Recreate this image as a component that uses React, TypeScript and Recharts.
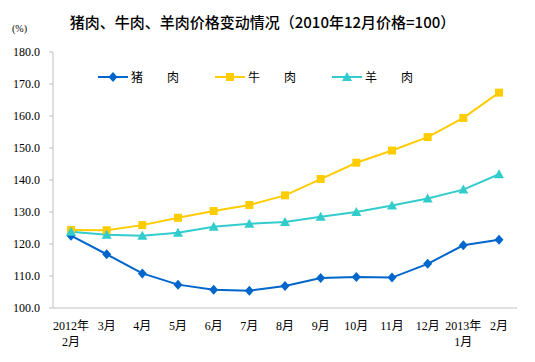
import React from "react"
import {
  ComposedChart,
  Line,
  XAxis,
  YAxis,
} from "recharts"

// 月份（2012年2月 — 2013年2月）
const months = [
  "2012年2月", "3月", "4月", "5月", "6月", "7月", "8月",
  "9月", "10月", "11月", "12月", "2013年1月", "2月",
]

// 价格指数，2010年12月=100
const pork = [122.6, 116.8, 110.8, 107.3, 105.7, 105.4, 106.9, 109.4, 109.7, 109.5, 113.8, 119.6, 121.3]
const beef = [124.4, 124.3, 125.9, 128.2, 130.3, 132.2, 135.2, 140.3, 145.4, 149.2, 153.4, 159.4, 167.3]
const mutton = [123.8, 122.9, 122.6, 123.5, 125.4, 126.3, 126.9, 128.5, 130.0, 132.0, 134.2, 137.0, 141.8]

const yTicks = [100, 110, 120, 130, 140, 150, 160, 170, 180]

const data = months.map((m, i) => ({
  month: m,
  pork: pork[i],
  beef: beef[i],
  mutton: mutton[i],
}))

type Shape = "diamond" | "square" | "triangle"

const series: { key: string; name: string; color: string; shape: Shape }[] = [
  { key: "pork", name: "猪　　肉", color: "#0066CC", shape: "diamond" },
  { key: "beef", name: "牛　　肉", color: "#FFCC00", shape: "square" },
  { key: "mutton", name: "羊　　肉", color: "#33CCCC", shape: "triangle" },
]

const serif = "'Liberation Serif', 'Noto Sans CJK SC', serif"
const cjk = "'Noto Sans CJK SC', sans-serif"

function Marker({ cx, cy, shape, color }: { cx: number; cy: number; shape: Shape; color: string }) {
  if (shape === "diamond") {
    return <polygon points={`${cx},${cy - 5} ${cx + 4.5},${cy} ${cx},${cy + 5} ${cx - 4.5},${cy}`} fill={color} />
  }
  if (shape === "square") {
    return <rect x={cx - 4} y={cy - 4} width={8} height={8} fill={color} />
  }
  return <polygon points={`${cx},${cy - 5} ${cx + 5},${cy + 4} ${cx - 5},${cy + 4}`} fill={color} />
}

function makeDot(shape: Shape, color: string) {
  return (props: any) => {
    if (props.cx == null || props.cy == null) return <g key={props.index} />
    return (
      <g key={`${shape}-${props.index}`}>
        <Marker cx={props.cx} cy={props.cy} shape={shape} color={color} />
      </g>
    )
  }
}

function MonthTick({ x, y, payload }: any) {
  const label: string = payload.value
  const idx = label.indexOf("年")
  const lines = idx >= 0 ? [label.slice(0, idx + 1), label.slice(idx + 1)] : [label]
  return (
    <g transform={`translate(${x},${y})`}>
      {lines.map((t, i) => (
        <text
          key={i}
          x={0}
          y={14 + i * 16}
          textAnchor="middle"
          fontSize={12}
          fontFamily={serif}
          fill="#000"
        >
          {t}
        </text>
      ))}
    </g>
  )
}

function LegendBox() {
  return (
    <div style={{ position: "absolute", left: 98, top: 69, display: "flex", fontFamily: cjk, fontSize: 12 }}>
      {series.map((s) => (
        <div key={s.key} style={{ display: "flex", alignItems: "center", width: 117, height: 16 }}>
          <svg width={30} height={12} style={{ marginRight: 3 }}>
            <line x1={0} y1={6} x2={30} y2={6} stroke={s.color} strokeWidth={2} />
            <Marker cx={15} cy={6} shape={s.shape} color={s.color} />
          </svg>
          <span style={{ whiteSpace: "pre", lineHeight: "16px" }}>{s.name}</span>
        </div>
      ))}
    </div>
  )
}

export default function App() {
  return (
    <div style={{ position: "absolute", left: 0, top: 0, width: 535, height: 362, background: "#fff" }}>
      <div
        style={{
          position: "absolute",
          left: 0,
          top: 11,
          width: 525,
          textAlign: "center",
          fontFamily: cjk,
          fontSize: 15,
          fontWeight: 500,
          color: "#000",
        }}
      >
        猪肉、牛肉、羊肉价格变动情况（2010年12月价格=100）
      </div>
      <div style={{ position: "absolute", left: 12, top: 23, fontFamily: serif, fontSize: 10 }}>(%)</div>
      <ComposedChart width={535} height={362} data={data} margin={{ top: 52, right: 18, left: 0, bottom: 0 }}>
        <XAxis
          dataKey="month"
          interval={0}
          height={54}
          padding={{ left: 18, right: 18 }}
          tickLine={false}
          axisLine={{ stroke: "#BFBFBF" }}
          tick={<MonthTick />}
        />
        <XAxis
          xAxisId="top"
          orientation="top"
          dataKey="month"
          height={0}
          tick={false}
          tickLine={false}
          axisLine={{ stroke: "#BFBFBF" }}
        />
        <YAxis
          domain={[100, 180]}
          ticks={yTicks}
          width={53}
          interval={0}
          tickSize={4}
          tickMargin={9}
          tickLine={{ stroke: "#BFBFBF" }}
          axisLine={{ stroke: "#BFBFBF" }}
          tickFormatter={(v: number) => v.toFixed(1)}
          tick={{ fontSize: 12, fontFamily: serif, fill: "#000" }}
        />
        <YAxis
          yAxisId="right"
          orientation="right"
          domain={[100, 180]}
          width={0}
          tick={false}
          tickLine={false}
          axisLine={{ stroke: "#BFBFBF" }}
        />
        {series.map((s) => (
          <Line
            key={s.key}
            type="linear"
            dataKey={s.key}
            name={s.name}
            stroke={s.color}
            strokeWidth={2}
            dot={makeDot(s.shape, s.color)}
            activeDot={false}
            isAnimationActive={false}
          />
        ))}
      </ComposedChart>
      <LegendBox />
    </div>
  )
}
